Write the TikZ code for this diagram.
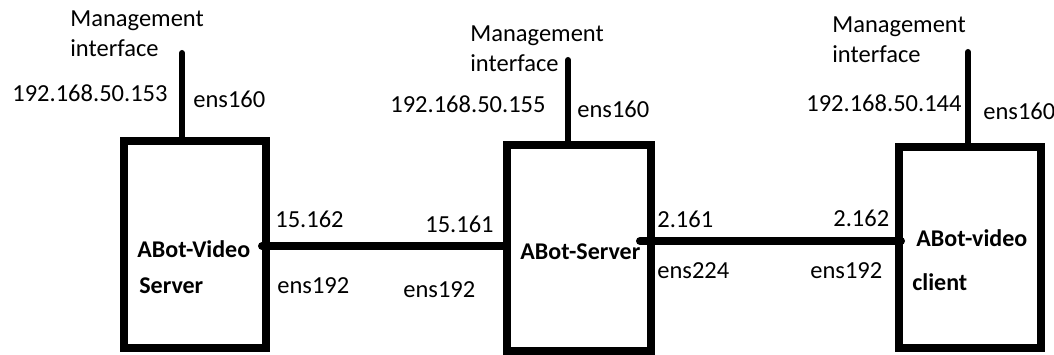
\documentclass[tikz,border=0pt]{standalone}
\usepackage{fontspec}
\setmainfont{Carlito}
\usepackage{tikz}
\tikzset{every picture/.style={line width=0.75pt}}
\tikzset{
  hostbox/.style={draw, line width=8pt, inner sep=0pt},
  lbl/.style={anchor=base west, inner sep=0pt, font=\fontsize{24.5}{28}\selectfont},
  hostlbl/.style={anchor=base west, inner sep=0pt, font=\fontsize{24}{28}\selectfont\bfseries},
  mgmt/.style={line width=6pt, line cap=round},
  link/.style={line width=8pt, line cap=round}
}

\begin{document}
\begin{tikzpicture}[x=1pt,y=1pt,yscale=-1,xscale=1]
\useasboundingbox (0,0) rectangle (1054,355);

%Shape: Rectangle [ABot-Video Server]
\node [hostbox, minimum width=142pt, minimum height=207pt] (vsrv) at (195,244.5) {};
%Shape: Rectangle [ABot-Server]
\node [hostbox, minimum width=144pt, minimum height=206pt] (asrv) at (579,248) {};
%Shape: Rectangle [ABot-video client]
\node [hostbox, minimum width=142pt, minimum height=201pt] (vcli) at (970,247.5) {};

%Straight Lines [management]
\coordinate (vsrvmgmt) at (182,53);
\coordinate (asrvmgmt) at (568,60);
\coordinate (vclimgmt) at (968,52);
\draw [mgmt] (vsrvmgmt) -- (vsrvmgmt |- vsrv.north);
\draw [mgmt] (asrvmgmt) -- (asrvmgmt |- asrv.north);
\draw [mgmt] (vclimgmt) -- (vclimgmt |- vcli.north);

%Straight Lines [data links]
\draw [link] ([xshift=-8pt,yshift=1.5pt]vsrv.east) -- ([yshift=-2pt]asrv.west);
\draw [link] ([xshift=-15pt,yshift=-7pt]asrv.east) -- ([xshift=6pt,yshift=-6.5pt]vcli.west);

%Text Node [host names]
\node [hostlbl] (vsrvname1) at (137,258) {ABot-Video};
\node [hostlbl] (vsrvname2) at (139,293) {Server};
\node [hostlbl] (asrvname) at (520,260) {ABot-Server};
\node [hostlbl] (vcliname1) at (916,247) {ABot-video};
\node [hostlbl] (vcliname2) at (912,290) {client};

%Text Node [management labels]
\node [lbl] (vsrvmg1) at (70,27) {Management};
\node [lbl] (vsrvmg2) at (70,57) {interface};
\node [lbl] (vsrvip) at (12,102) {192.168.50.153};
\node [lbl] (vsrvif) at (193,108) {ens160};

\node [lbl] (asrvmg1) at (470,42) {Management};
\node [lbl] (asrvmg2) at (470,72) {interface};
\node [lbl] (asrvip) at (390,113) {192.168.50.155};
\node [lbl] (asrvif) at (577,118) {ens160};

\node [lbl] (vclimg1) at (832,33) {Management};
\node [lbl] (vclimg2) at (832,63) {interface};
\node [lbl] (vcliip) at (806,112) {192.168.50.144};
\node [lbl] (vcliif) at (983,120) {ens160};

%Text Node [link labels]
\node [lbl] (lnka) at (275,228) {15.162};
\node [lbl] (lnkb) at (277,293) {ens192};
\node [lbl] (lnkc) at (425,233) {15.161};
\node [lbl] (lnkd) at (403,297) {ens192};
\node [lbl] (lnke) at (657,228) {2.161};
\node [lbl] (lnkf) at (657,278) {ens224};
\node [lbl] (lnkg) at (833,227) {2.162};
\node [lbl] (lnkh) at (810,278) {ens192};

\end{tikzpicture}
\end{document}
